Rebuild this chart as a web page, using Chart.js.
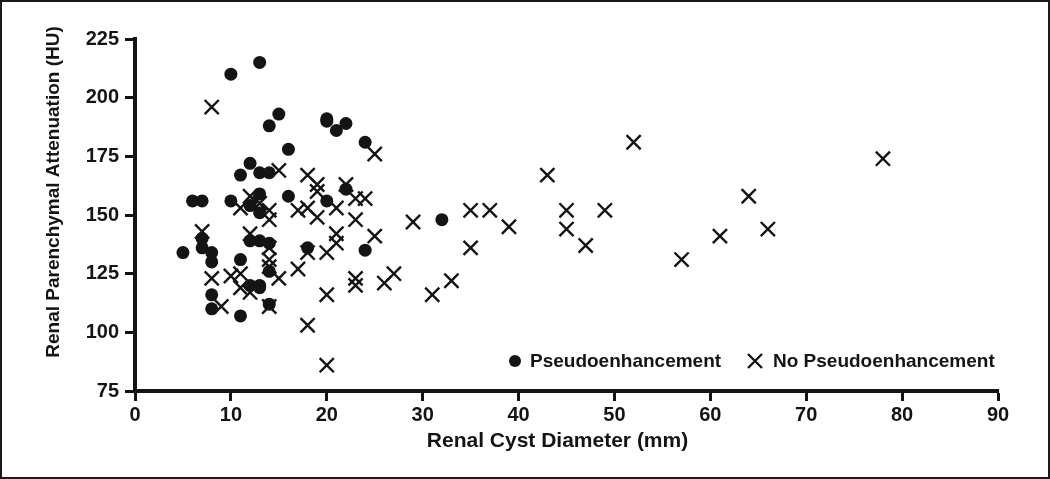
<!DOCTYPE html>
<html>
<head>
<meta charset="utf-8">
<script src="https://cdn.jsdelivr.net/npm/chart.js@4.4.1/dist/chart.umd.min.js"></script>
<style>
  html, body { margin: 0; padding: 0; background: #fff; }
  #wrap { width: 1050px; height: 479px; position: relative; }
</style>
</head>
<body>
<div id="wrap"><canvas id="chart"></canvas></div>
<script>
// diameter (mm) / attenuation (HU)
const pseudoDiameter = [5, 6, 7, 10, 13, 15, 14, 20, 20, 22, 21, 24, 16, 12, 11, 13, 14, 10, 13, 16, 20, 22, 12, 13,
  7, 7, 8, 8, 12, 13, 14, 11, 14, 12, 13, 13, 8, 8, 11, 14, 18, 24, 32];
const pseudoAtten = [134, 156, 156, 210, 215, 193, 188, 191, 190, 189, 186, 181, 178, 172, 167, 168, 168, 156, 159, 158, 156, 161, 154, 151,
  140, 136, 134, 130, 139, 139, 138, 131, 126, 120, 120, 119, 116, 110, 107, 112, 136, 135, 148];

const noPseudoDiameter = [8, 25, 15, 18, 19, 22, 43, 52, 78, 64, 12, 13, 11, 14, 14, 7, 12, 14, 14, 14, 8, 10, 11, 15, 11, 12, 9, 14,
  17, 18, 19, 21, 23, 24, 23, 21, 21, 25, 18, 20, 17, 23, 23, 26, 27, 20, 18, 20,
  29, 35, 37, 39, 45, 45, 35, 31, 33, 49, 47, 57, 61, 66, 19];
const noPseudoAtten = [196, 176, 169, 167, 163, 163, 167, 181, 174, 158, 158, 155, 153, 152, 148, 143, 142, 136, 131, 128, 123, 124, 125, 123, 119, 117, 111, 111,
  152, 153, 149, 153, 157, 157, 148, 142, 138, 141, 134, 134, 127, 123, 120, 121, 125, 116, 103, 86,
  147, 152, 152, 145, 152, 144, 136, 116, 122, 152, 137, 131, 141, 144, 160];

const xTicks = [0, 10, 20, 30, 40, 50, 60, 70, 80, 90];
const yTicks = [75, 100, 125, 150, 175, 200, 225];

const xTitle = 'Renal Cyst Diameter (mm)';
const yTitle = 'Renal Parenchymal Attenuation (HU)';

const ink = '#141414';
const fontFam = '"Liberation Sans", Arial, sans-serif';

function toPoints(xs, ys) {
  return xs.map((x, i) => ({ x: x, y: ys[i] }));
}

// axis titles drawn by hand, the figure has them off-centre
const axisTitles = {
  id: 'axisTitles',
  afterDraw(chart) {
    const ctx = chart.ctx;
    const area = chart.chartArea;
    ctx.save();
    ctx.fillStyle = ink;
    ctx.textAlign = 'center';
    ctx.textBaseline = 'middle';
    ctx.font = 'bold 21px ' + fontFam;
    ctx.fillText(xTitle, (area.left + area.right) / 2 - 9, area.bottom + 50);
    ctx.translate(54, (area.top + area.bottom) / 2 - 23);
    ctx.rotate(-Math.PI / 2);
    ctx.font = 'bold 19px ' + fontFam;
    ctx.fillText(yTitle, 0, 0);
    ctx.restore();
  }
};

// legend sits inside the plot, lower right
const insideLegend = {
  id: 'insideLegend',
  afterDraw(chart) {
    const ctx = chart.ctx;
    const area = chart.chartArea;
    const y = area.bottom - 30;
    ctx.save();
    ctx.font = 'bold 19px ' + fontFam;
    ctx.fillStyle = ink;
    ctx.strokeStyle = ink;
    ctx.textBaseline = 'middle';
    let x = area.left + 380;
    ctx.beginPath();
    ctx.arc(x, y, 6, 0, Math.PI * 2);
    ctx.fill();
    ctx.fillText(chart.data.datasets[0].label, x + 15, y + 1);
    x = area.left + 620;
    ctx.lineWidth = 2.4;
    ctx.beginPath();
    ctx.moveTo(x - 7, y - 7); ctx.lineTo(x + 7, y + 7);
    ctx.moveTo(x + 7, y - 7); ctx.lineTo(x - 7, y + 7);
    ctx.stroke();
    ctx.fillText(chart.data.datasets[1].label, x + 18, y + 1);
    ctx.restore();
  }
};

// thin frame round the whole figure
const frame = {
  id: 'frame',
  afterDraw(chart) {
    const ctx = chart.ctx;
    ctx.save();
    ctx.strokeStyle = '#1a1a1a';
    ctx.lineWidth = 2;
    ctx.strokeRect(1, 1, chart.width - 2, chart.height - 2);
    ctx.restore();
  }
};

const ctx = document.getElementById('chart');
new Chart(ctx, {
  type: 'scatter',
  data: {
    datasets: [
      {
        label: 'Pseudoenhancement',
        data: toPoints(pseudoDiameter, pseudoAtten),
        pointStyle: 'circle',
        pointRadius: 6.5,
        backgroundColor: ink,
        borderColor: ink,
        borderWidth: 0,
      },
      {
        label: 'No Pseudoenhancement',
        data: toPoints(noPseudoDiameter, noPseudoAtten),
        pointStyle: 'crossRot',
        pointRadius: 10,
        backgroundColor: ink,
        borderColor: ink,
        borderWidth: 2.4,
      },
    ],
  },
  options: {
    responsive: true,
    maintainAspectRatio: false,
    animation: false,
    events: [],
    layout: { padding: { top: 39, right: 52, left: 10, bottom: 0 } },
    plugins: {
      legend: { display: false },
      tooltip: { enabled: false },
    },
    scales: {
      x: {
        type: 'linear',
        min: xTicks[0],
        max: xTicks[xTicks.length - 1],
        afterBuildTicks: (scale) => { scale.ticks = xTicks.map((v) => ({ value: v })); },
        afterFit: (scale) => { scale.height = 88; },
        border: { color: ink, width: 4 },
        grid: { drawOnChartArea: false, drawTicks: true, tickLength: 10, tickWidth: 3, tickColor: ink },
        ticks: { color: ink, padding: 2, font: { family: fontFam, size: 20, weight: 'bold' } },
      },
      y: {
        type: 'linear',
        min: yTicks[0],
        max: yTicks[yTicks.length - 1],
        afterBuildTicks: (scale) => { scale.ticks = yTicks.map((v) => ({ value: v })); },
        afterFit: (scale) => { scale.width = 125; },
        border: { color: ink, width: 4 },
        grid: { drawOnChartArea: false, drawTicks: true, tickLength: 10, tickWidth: 3, tickColor: ink },
        ticks: { color: ink, padding: 6, font: { family: fontFam, size: 20, weight: 'bold' } },
      },
    },
  },
  plugins: [axisTitles, insideLegend, frame],
});
</script>
</body>
</html>
